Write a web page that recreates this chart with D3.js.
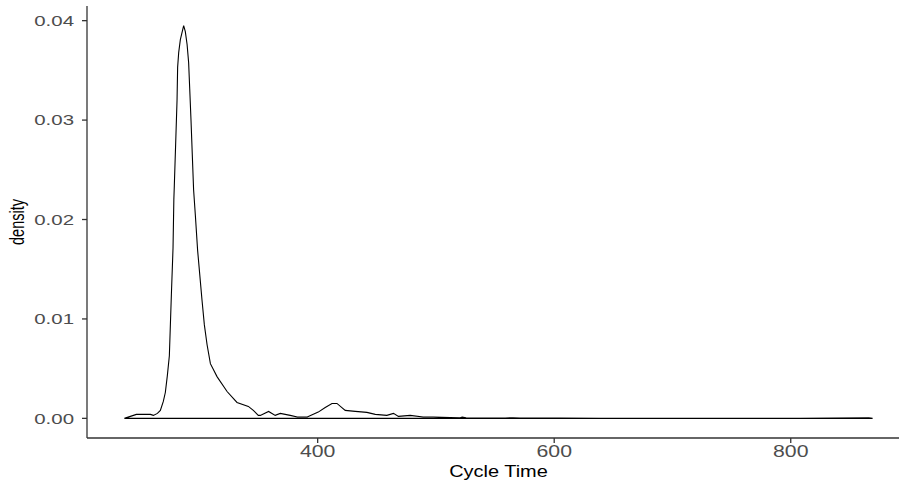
<!DOCTYPE html>
<html>
<head>
<meta charset="utf-8">
<script src="https://cdn.jsdelivr.net/npm/d3@7"></script>
<style>
  body { margin: 0; background: #fff; }
  text { font-family: "Liberation Sans", Arial, sans-serif; }
</style>
</head>
<body>
<div id="chart"></div>
<script>
// density estimate
const cycleTime = [236.6, 246.7, 258.6, 261.1, 264.5, 267.0, 269.5, 271.2, 272.9, 274.6, 276.3, 277.7,
  278.4, 278.8, 279.9, 281.1, 281.6, 282.5, 283.9, 285.9, 286.7, 288.1, 289.6, 290.9, 291.8, 292.9,
  294.0, 295.1, 296.6, 298.5, 302.2, 304.2, 306.5, 309.3, 314.9, 323.4, 331.8, 341.4, 345.6, 349.8,
  351.5, 358.5, 364.1, 368.4, 376.8, 382.8, 391.2, 400.5, 406.4, 412.1, 416.3, 423.3, 431.8, 441.6,
  448.7, 458.5, 464.1, 468.3, 478.2, 489.2, 497.7, 512.0, 520.5, 522.2, 525.5, 537.4, 558.5, 565.3,
  571.2, 605, 639, 723, 808, 866, 869.2];
const density = [0, 0.0004, 0.0004, 0.0003, 0.0005, 0.0008, 0.0017, 0.0026, 0.0043, 0.0063, 0.0124, 0.0171,
  0.0220, 0.0234, 0.0275, 0.0320, 0.0353, 0.0368, 0.0381, 0.0391, 0.0395, 0.0389, 0.0376, 0.0358, 0.0332, 0.0300,
  0.0265, 0.0230, 0.0204, 0.0169, 0.0119, 0.0094, 0.0074, 0.0055, 0.0042, 0.0027, 0.0016, 0.0012, 0.0008, 0.0003,
  0.0003, 0.0007, 0.0003, 0.0005, 0.0003, 0.00013, 0.00013, 0.00063, 0.0011, 0.0015, 0.0015, 0.0008, 0.0007, 0.0006,
  0.0004, 0.0003, 0.0005, 0.0002, 0.0003, 0.00013, 0.00013, 0.00007, 0.00005, 0.00012, 0.00005, 0.00004, 0.00004, 0.00006,
  0.00004, 0.00002, 0.00001, 0, 0, 0.00005, 0];

const xTicks = [400, 600, 800];
const yTicks = [0, 0.01, 0.02, 0.03, 0.04];

const width = 899, height = 482;
const margin = {top: 6, right: -11, bottom: 44, left: 87};
const sx = 1.38; // text in the picture is stretched sideways

const data = cycleTime.map((d, i) => [d, density[i]]);

const xMin = d3.min(cycleTime), xMax = d3.max(cycleTime);
const xPad = (xMax - xMin) * 0.05;
const yMax = d3.max(density), yPad = yMax * 0.05;

const x = d3.scaleLinear()
  .domain([xMin - xPad, xMax + xPad])
  .range([margin.left, width - margin.right]);
const y = d3.scaleLinear()
  .domain([-yPad, yMax + yPad])
  .range([height - margin.bottom, margin.top]);

const svg = d3.select("#chart").append("svg")
  .attr("width", width).attr("height", height);

// density outline, closed along the baseline
const outline = d3.line().x(d => x(d[0])).y(d => y(d[1]));
svg.append("path")
  .datum(data.concat([[xMax, 0], [xMin, 0]]))
  .attr("d", d => outline(d) + "Z")
  .attr("fill", "none")
  .attr("stroke", "#000")
  .attr("stroke-width", 1.1);

// axes
const y0 = height - margin.bottom;
svg.append("line")
  .attr("x1", margin.left).attr("x2", width - margin.right)
  .attr("y1", y0).attr("y2", y0)
  .attr("stroke", "#333").attr("stroke-width", 1.3);
svg.append("line")
  .attr("x1", margin.left).attr("x2", margin.left)
  .attr("y1", margin.top).attr("y2", y0)
  .attr("stroke", "#333").attr("stroke-width", 1.3);

svg.selectAll(".xtick").data(xTicks).join("line")
  .attr("x1", d => x(d)).attr("x2", d => x(d))
  .attr("y1", y0).attr("y2", y0 + 5)
  .attr("stroke", "#333").attr("stroke-width", 1.3);
svg.selectAll(".xlab").data(xTicks).join("text")
  .attr("text-anchor", "middle")
  .attr("transform", d => `translate(${x(d)},${y0 + 19}) scale(1.33,1)`)
  .attr("font-size", 16)
  .attr("fill", "#4d4d4d")
  .text(d => d);

svg.selectAll(".ytick").data(yTicks).join("line")
  .attr("x1", margin.left - 5).attr("x2", margin.left)
  .attr("y1", d => y(d)).attr("y2", d => y(d))
  .attr("stroke", "#333").attr("stroke-width", 1.3);
svg.selectAll(".ylab").data(yTicks).join("text")
  .attr("text-anchor", "end")
  .attr("transform", d => `translate(${margin.left - 13},${y(d) + 5.4}) scale(${sx},1)`)
  .attr("font-size", 14.8)
  .attr("fill", "#4d4d4d")
  .text(d => d3.format(".2f")(d));

// axis titles
svg.append("text")
  .attr("text-anchor", "middle")
  .attr("transform", `translate(${(margin.left + width - margin.right) / 2},${y0 + 39}) scale(1.21,1)`)
  .attr("font-size", 16.5)
  .text("Cycle Time");

svg.append("text")
  .attr("text-anchor", "middle")
  .attr("transform", `translate(24,${(margin.top + y0) / 2}) scale(${sx},1) rotate(-90)`)
  .attr("font-size", 14.5)
  .text("density");
</script>
</body>
</html>
